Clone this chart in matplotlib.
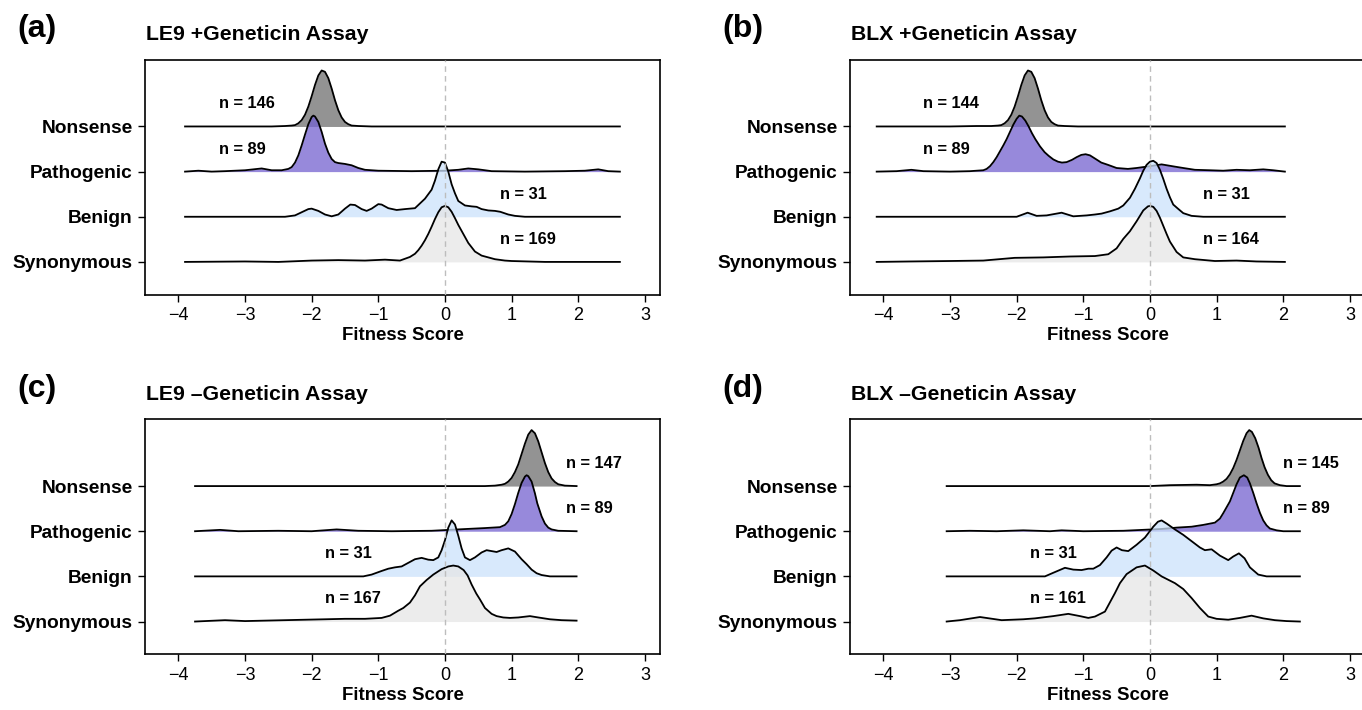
import matplotlib
matplotlib.use("Agg")
import matplotlib.pyplot as plt

plt.rcParams['font.family'] = ['Liberation Sans', 'DejaVu Sans']

# Categories, bottom to top
CATEGORIES = ["Synonymous", "Benign", "Pathogenic", "Nonsense"]
FILL_COLORS = {"Nonsense": "#6f6f6f", "Pathogenic": "#7462d0",
               "Benign": "#cce2fb", "Synonymous": "#e6e6e6"}
XTICKS = [-4, -3, -2, -1, 0, 1, 2, 3]
XTICK_LABELS = ["\u22124", "\u22123", "\u22122", "\u22121", "0", "1", "2", "3"]

# Density outlines (x = fitness score, y = height in row units)
# (a) LE9 +Geneticin
A_NONSENSE_X = [-3.9, -2.6, -2.4, -2.3, -2.25, -2.2, -2.15, -2.1, -2.05, -2.0, -1.95, -1.9, -1.85, -1.8,
                -1.75, -1.7, -1.65, -1.6, -1.55, -1.5, -1.45, -1.4, -1.3, -1.1, 2.625]
A_NONSENSE_Y = [0.0, 0.0, 0.01, 0.02, 0.03, 0.07, 0.14, 0.26, 0.44, 0.67, 0.92, 1.13, 1.24, 1.21,
                1.07, 0.84, 0.58, 0.36, 0.20, 0.10, 0.05, 0.02, 0.01, 0.0, 0.0]
A_PATHO_X = [-3.9, -3.7, -3.5, -3.3, -3.0, -2.75, -2.6, -2.45, -2.35, -2.3, -2.25, -2.2, -2.15, -2.1,
             -2.05, -2.0, -1.975, -1.95, -1.9, -1.85, -1.8, -1.75, -1.7, -1.65, -1.6, -1.5, -1.4,
             -1.3, -1.2, -1.0, -0.5, 0.0, 0.2, 0.35, 0.5, 0.7, 1.2, 1.8, 2.1, 2.3, 2.45, 2.625]
A_PATHO_Y = [0.0, 0.02, 0.0, 0.01, 0.03, 0.07, 0.03, 0.03, 0.06, 0.10, 0.20, 0.36, 0.58, 0.82,
             1.05, 1.21, 1.24, 1.22, 1.10, 0.88, 0.62, 0.42, 0.28, 0.21, 0.19, 0.17, 0.14,
             0.08, 0.04, 0.02, 0.01, 0.02, 0.04, 0.07, 0.05, 0.01, 0.0, 0.01, 0.02, 0.05, 0.01, 0.0]
A_BENIGN_X = [-3.9, -2.4, -2.25, -2.15, -2.05, -2.0, -1.9, -1.8, -1.7, -1.6, -1.5, -1.42, -1.35, -1.25,
              -1.175, -1.1, -1.0, -0.95, -0.85, -0.725, -0.6, -0.45, -0.35, -0.3, -0.25, -0.2, -0.15,
              -0.1, -0.05, 0.0, 0.05, 0.1, 0.15, 0.2, 0.3, 0.4, 0.475, 0.55, 0.65, 0.75, 0.83, 0.95,
              1.05, 1.2, 2.625]
A_BENIGN_Y = [0.0, 0.0, 0.03, 0.10, 0.17, 0.18, 0.13, 0.05, 0.01, 0.05, 0.18, 0.27, 0.26, 0.17,
              0.13, 0.18, 0.28, 0.27, 0.19, 0.15, 0.17, 0.19, 0.33, 0.40, 0.50, 0.60, 0.80,
              1.05, 1.22, 1.20, 1.0, 0.72, 0.52, 0.35, 0.25, 0.23, 0.22, 0.17, 0.14, 0.13, 0.11, 0.05,
              0.02, 0.0, 0.0]
A_SYN_X = [-3.9, -3.0, -2.5, -2.0, -1.6, -1.2, -0.9, -0.675, -0.525, -0.45, -0.4, -0.35, -0.3, -0.25,
           -0.2, -0.15, -0.1, -0.05, 0.0, 0.05, 0.1, 0.15, 0.2, 0.275, 0.35, 0.45, 0.55, 0.625, 0.75,
           0.9, 1.0, 1.5, 2.625]
A_SYN_Y = [0.0, 0.01, 0.0, 0.03, 0.04, 0.03, 0.05, 0.03, 0.11, 0.18, 0.26, 0.36, 0.48, 0.62,
           0.78, 0.95, 1.10, 1.21, 1.24, 1.21, 1.11, 0.97, 0.82, 0.62, 0.42, 0.23, 0.14, 0.11, 0.06,
           0.03, 0.02, 0.0, 0.0]

# (b) BLX +Geneticin
B_NONSENSE_X = [-4.1, -3.0, -2.6, -2.38, -2.28, -2.23, -2.18, -2.13, -2.08, -2.03, -1.98, -1.93, -1.88,
                -1.83, -1.78, -1.73, -1.68, -1.63, -1.58, -1.53, -1.48, -1.43, -1.38, -1.28, -1.08, 2.025]
B_NONSENSE_Y = [0.0, 0.0, 0.01, 0.01, 0.02, 0.03, 0.07, 0.14, 0.26, 0.44, 0.67, 0.92, 1.13,
                1.24, 1.21, 1.07, 0.84, 0.58, 0.36, 0.20, 0.10, 0.05, 0.02, 0.01, 0.0, 0.0]
B_PATHO_X = [-4.1, -3.8, -3.58, -3.4, -3.0, -2.7, -2.5, -2.45, -2.4, -2.35, -2.3, -2.25, -2.2, -2.15,
             -2.1, -2.05, -2.0, -1.96, -1.92, -1.87, -1.82, -1.77, -1.72, -1.65, -1.58, -1.52, -1.45,
             -1.38, -1.32, -1.25, -1.17, -1.1, -1.03, -0.965, -0.9, -0.825, -0.73, -0.63, -0.5, -0.33,
             -0.2, 0.0, 0.175, 0.375, 0.5, 0.675, 0.9, 1.1, 1.3, 1.5, 1.7, 1.85, 2.025]
B_PATHO_Y = [0.0, 0.01, 0.04, 0.01, 0.0, 0.01, 0.03, 0.06, 0.12, 0.21, 0.32, 0.45, 0.58, 0.72,
             0.88, 1.04, 1.17, 1.24, 1.22, 1.13, 1.00, 0.85, 0.72, 0.56, 0.43, 0.35, 0.27,
             0.22, 0.20, 0.21, 0.26, 0.32, 0.37, 0.385, 0.36, 0.29, 0.20, 0.15, 0.08, 0.06,
             0.08, 0.12, 0.16, 0.11, 0.08, 0.04, 0.03, 0.02, 0.04, 0.03, 0.05, 0.03, 0.0]
B_BENIGN_X = [-4.1, -2.0, -1.835, -1.7, -1.55, -1.325, -1.15, -0.95, -0.825, -0.725, -0.6, -0.475, -0.4,
              -0.3, -0.225, -0.15, -0.1, -0.05, 0.0, 0.05, 0.1, 0.15, 0.2, 0.25, 0.3, 0.35, 0.42, 0.5,
              0.625, 0.8, 2.025]
B_BENIGN_Y = [0.0, 0.0, 0.09, 0.02, 0.03, 0.09, 0.01, 0.03, 0.05, 0.07, 0.12, 0.18, 0.25,
              0.42, 0.62, 0.85, 1.02, 1.15, 1.22, 1.24, 1.19, 1.04, 0.84, 0.62, 0.43, 0.27, 0.18, 0.08,
              0.02, 0.0, 0.0]
B_SYN_X = [-4.1, -3.6, -3.0, -2.5, -2.03, -1.6, -1.2, -0.825, -0.625, -0.5, -0.4, -0.3, -0.2, -0.1,
           -0.03, 0.0, 0.05, 0.1, 0.15, 0.2, 0.25, 0.3, 0.4, 0.5, 0.675, 0.975, 1.3, 1.6, 2.025]
B_SYN_Y = [0.0, 0.01, 0.02, 0.03, 0.09, 0.10, 0.12, 0.13, 0.17, 0.30, 0.51, 0.68, 0.90, 1.14,
           1.23, 1.24, 1.22, 1.13, 0.98, 0.80, 0.62, 0.45, 0.22, 0.10, 0.06, 0.02, 0.03, 0.01, 0.0]

# (c) LE9 -Geneticin
C_NONSENSE_X = [-3.75, 0.6, 0.75, 0.85, 0.9, 0.95, 1.0, 1.05, 1.1, 1.15, 1.2, 1.25, 1.3, 1.35, 1.4,
                1.45, 1.5, 1.55, 1.6, 1.65, 1.7, 1.8, 1.975]
C_NONSENSE_Y = [0.0, 0.0, 0.01, 0.03, 0.05, 0.10, 0.18, 0.31, 0.48, 0.71, 0.94, 1.14, 1.24, 1.17, 0.99,
                0.75, 0.51, 0.31, 0.17, 0.09, 0.04, 0.01, 0.0]
C_PATHO_X = [-3.75, -3.375, -3.1, -2.5, -2.0, -1.625, -1.3, -0.8, -0.2, 0.325, 0.6, 0.825, 0.9, 0.95,
             1.0, 1.05, 1.1, 1.15, 1.2, 1.225, 1.25, 1.3, 1.35, 1.385, 1.45, 1.5, 1.55, 1.6, 1.7, 1.975]
C_PATHO_Y = [0.0, 0.03, 0.0, 0.01, 0.0, 0.04, 0.01, 0.0, 0.01, 0.05, 0.07, 0.09, 0.14, 0.22,
             0.38, 0.60, 0.85, 1.07, 1.21, 1.24, 1.22, 1.10, 0.84, 0.62, 0.33, 0.17, 0.08, 0.04, 0.01, 0.0]
C_BENIGN_X = [-3.75, -1.225, -1.1, -0.95, -0.85, -0.75, -0.65, -0.55, -0.45, -0.35, -0.25, -0.175, -0.1,
              -0.05, 0.0, 0.05, 0.1, 0.15, 0.2, 0.25, 0.3, 0.375, 0.45, 0.55, 0.625, 0.775, 0.85, 0.95,
              1.05, 1.15, 1.225, 1.3, 1.375, 1.45, 1.575, 1.975]
C_BENIGN_Y = [0.0, 0.0, 0.04, 0.12, 0.17, 0.20, 0.22, 0.30, 0.38, 0.41, 0.37, 0.36, 0.42,
              0.58, 0.80, 1.08, 1.24, 1.15, 0.90, 0.62, 0.42, 0.36, 0.42, 0.53, 0.58, 0.54, 0.58, 0.62,
              0.55, 0.38, 0.27, 0.15, 0.07, 0.03, 0.0, 0.0]
C_SYN_X = [-3.75, -3.6, -3.3, -3.0, -2.7, -2.4, -2.1, -1.8, -1.5, -1.2, -0.95, -0.825, -0.7, -0.625,
           -0.525, -0.45, -0.375, -0.275, -0.175, -0.05, 0.05, 0.125, 0.2, 0.28, 0.34, 0.4, 0.47, 0.525,
           0.6, 0.7, 0.775, 0.875, 0.975, 1.1, 1.275, 1.4, 1.575, 1.75, 1.975]
C_SYN_Y = [0.0, 0.01, 0.03, 0.01, 0.02, 0.03, 0.04, 0.05, 0.06, 0.06, 0.08, 0.13, 0.24, 0.30,
           0.42, 0.58, 0.78, 0.92, 1.04, 1.16, 1.22, 1.24, 1.22, 1.14, 1.02, 0.82, 0.62, 0.49,
           0.30, 0.17, 0.12, 0.09, 0.08, 0.09, 0.12, 0.09, 0.05, 0.03, 0.02]

# (d) BLX -Geneticin
D_NONSENSE_X = [-3.05, 0.0, 0.3, 0.7, 0.9, 1.0, 1.05, 1.1, 1.15, 1.2, 1.25, 1.3, 1.35, 1.4, 1.45, 1.49,
                1.53, 1.58, 1.63, 1.675, 1.72, 1.77, 1.82, 1.87, 1.95, 2.05, 2.25]
D_NONSENSE_Y = [0.0, 0.0, 0.02, 0.03, 0.02, 0.04, 0.06, 0.10, 0.16, 0.26, 0.40, 0.58, 0.79, 1.00, 1.17,
                1.24, 1.20, 1.06, 0.85, 0.62, 0.42, 0.25, 0.13, 0.06, 0.02, 0.0, 0.0]
D_PATHO_X = [-3.05, -2.7, -2.3, -1.9, -1.5, -1.325, -1.0, -0.4, 0.175, 0.4, 0.625, 0.8, 0.975, 1.05,
             1.1, 1.15, 1.2, 1.25, 1.3, 1.35, 1.41, 1.46, 1.5, 1.55, 1.6, 1.65, 1.7, 1.75, 1.8, 1.9,
             2.0, 2.25]
D_PATHO_Y = [0.0, 0.01, 0.0, 0.02, 0.0, 0.02, 0.0, 0.01, 0.05, 0.08, 0.10, 0.14, 0.19, 0.28,
             0.40, 0.53, 0.66, 0.85, 1.04, 1.19, 1.24, 1.19, 1.06, 0.85, 0.62, 0.41, 0.24, 0.13, 0.06, 0.02,
             0.0, 0.0]
D_BENIGN_X = [-3.05, -1.575, -1.45, -1.275, -1.15, -1.025, -0.925, -0.85, -0.75, -0.65, -0.575, -0.5,
              -0.42, -0.325, -0.2, -0.075, 0.05, 0.12, 0.175, 0.25, 0.375, 0.5, 0.625, 0.75, 0.825,
              0.925, 1.05, 1.175, 1.25, 1.335, 1.42, 1.5, 1.625, 1.75, 2.25]
D_BENIGN_Y = [0.0, 0.0, 0.08, 0.19, 0.15, 0.14, 0.17, 0.17, 0.25, 0.42, 0.57, 0.64,
              0.58, 0.56, 0.70, 0.86, 1.10, 1.21, 1.24, 1.17, 1.04, 0.92, 0.78, 0.64, 0.58,
              0.60, 0.46, 0.36, 0.44, 0.51, 0.40, 0.20, 0.04, 0.0, 0.0]
D_SYN_X = [-3.05, -2.85, -2.55, -2.225, -1.9, -1.725, -1.45, -1.225, -1.05, -0.925, -0.825, -0.675,
           -0.525, -0.45, -0.35, -0.2, -0.075, 0.05, 0.175, 0.375, 0.5, 0.625, 0.75, 0.875, 1.0,
           1.175, 1.35, 1.525, 1.7, 1.875, 2.05, 2.25]
D_SYN_Y = [0.0, 0.03, 0.10, 0.03, 0.05, 0.07, 0.12, 0.17, 0.12, 0.08, 0.11, 0.22,
           0.63, 0.85, 1.05, 1.20, 1.24, 1.13, 1.00, 0.85, 0.72, 0.52, 0.30, 0.11, 0.06,
           0.04, 0.08, 0.13, 0.07, 0.03, 0.01, 0.0]

# Sample counts per category (Nonsense, Pathogenic, Benign, Synonymous)
A_COUNTS = [146, 89, 31, 169]
B_COUNTS = [144, 89, 31, 164]
C_COUNTS = [147, 89, 31, 167]
D_COUNTS = [145, 89, 31, 161]

PANELS = [
    ("(a)", "LE9 +Geneticin Assay",
     [(A_NONSENSE_X, A_NONSENSE_Y), (A_PATHO_X, A_PATHO_Y), (A_BENIGN_X, A_BENIGN_Y), (A_SYN_X, A_SYN_Y)],
     A_COUNTS, [-3.39, -3.39, 0.82, 0.82]),
    ("(b)", "BLX +Geneticin Assay",
     [(B_NONSENSE_X, B_NONSENSE_Y), (B_PATHO_X, B_PATHO_Y), (B_BENIGN_X, B_BENIGN_Y), (B_SYN_X, B_SYN_Y)],
     B_COUNTS, [-3.4, -3.4, 0.8, 0.8]),
    ("(c)", "LE9 \u2013Geneticin Assay",
     [(C_NONSENSE_X, C_NONSENSE_Y), (C_PATHO_X, C_PATHO_Y), (C_BENIGN_X, C_BENIGN_Y), (C_SYN_X, C_SYN_Y)],
     C_COUNTS, [1.81, 1.81, -1.8, -1.8]),
    ("(d)", "BLX \u2013Geneticin Assay",
     [(D_NONSENSE_X, D_NONSENSE_Y), (D_PATHO_X, D_PATHO_Y), (D_BENIGN_X, D_BENIGN_Y), (D_SYN_X, D_SYN_Y)],
     D_COUNTS, [2.0, 2.0, -1.8, -1.8]),
]

# axes rectangles in figure fractions
AX_W, AX_H = 0.378, 0.331
AX_POS = [(0.1065, 0.585), (0.6241, 0.585), (0.1065, 0.0785), (0.6241, 0.0785)]

fig = plt.figure(figsize=(13.62, 7.10), dpi=100)

for (tag, title, curves, counts, label_x), (left, bottom) in zip(PANELS, AX_POS):
    ax = fig.add_axes([left, bottom, AX_W, AX_H])
    ax.set_xlim(-4.5, 3.225)
    ax.set_ylim(0.275, 5.48)

    # draw from top row (Nonsense) down to Synonymous so lower ridges overlap
    order = ["Nonsense", "Pathogenic", "Benign", "Synonymous"]
    for k, (name, (xs, ys)) in enumerate(zip(order, curves)):
        base = CATEGORIES.index(name) + 1
        top = [base + v for v in ys]
        z = 2 + k
        ax.fill_between(xs, base, top, color=FILL_COLORS[name], alpha=0.75, lw=0, zorder=z)
        ax.plot(xs, top, color='black', lw=1.3, zorder=z, solid_joinstyle='round')
        ax.text(label_x[k], base + 0.5, "n = %d" % counts[k], fontsize=11.8, fontweight='bold',
                ha='left', va='center', zorder=10)

    ax.axvline(0, color='#bdbdbd', lw=1.0, ls=(0, (4, 3)), zorder=9)

    ax.set_xticks(XTICKS)
    ax.set_xticklabels(XTICK_LABELS, fontsize=13)
    ax.set_yticks([1, 2, 3, 4])
    ax.set_yticklabels(CATEGORIES, fontsize=13.8, fontweight='bold')
    ax.tick_params(direction='out', length=5, width=1, pad=4)
    ax.set_xlabel("Fitness Score", fontsize=13.4, fontweight='bold', labelpad=2)
    for sp in ax.spines.values():
        sp.set_linewidth(1.2)

    fig.text(left + 0.001, bottom + AX_H + 0.035, title, fontsize=15.3, fontweight='bold',
             ha='left', va='center')
    fig.text(left - 0.094, bottom + AX_H + 0.043, tag, fontsize=23, fontweight='bold',
             ha='left', va='center')

fig.savefig("out.png", dpi=100)
